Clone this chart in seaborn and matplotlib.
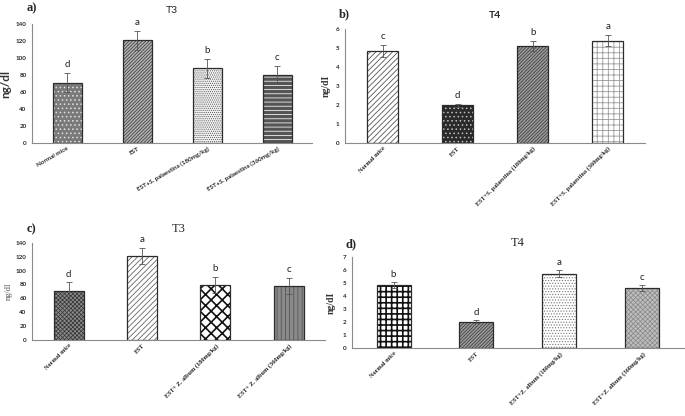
import matplotlib
matplotlib.use("Agg")
import matplotlib.pyplot as plt
import pandas as pd
import seaborn as sns

# ---- data ----
groupsA = ["Normal mice", "EST", "EST+S. palaestina (180mg/kg)", "EST+S. palaestina (360mg/kg)"]
t3A = [71, 121, 88, 80]
t3AErr = [11, 11, 11, 11]
t3ALetters = ["d", "a", "b", "c"]

groupsB = ["Normal mice", "EST", "EST+S. palaestina (180mg/kg)", "EST+S. palaestina (360mg/kg)"]
t4B = [4.85, 2.0, 5.1, 5.4]
t4BErr = [0.3, 0.08, 0.25, 0.27]
t4BLetters = ["c", "d", "b", "a"]

groupsC = ["Normal mice", "EST", "EST+ Z. album (180mg/kg)", "EST+ Z. album (360mg/kg)"]
t3C = [71, 121, 79, 78]
t3CErr = [12, 12, 12, 12]
t3CLetters = ["d", "a", "b", "c"]

groupsD = ["Normal mice", "EST", "EST+Z. album (180mg/kg)", "EST+Z. album (360mg/kg)"]
t4D = [4.85, 2.05, 5.72, 4.6]
t4DErr = [0.25, 0.08, 0.27, 0.23]
t4DLetters = ["b", "d", "a", "c"]

# (face, hatch, hatch colour, hatch width) per bar
fillsA = [("#7a7a7a", "....", "#e0e0e0", 0.6), ("#b0b0b0", "//////////", "#333333", 0.5),
          ("#f2f2f2", "........", "#555555", 0.5), ("#555555", "----", "#f0f0f0", 0.6)]
fillsB = [("white", "//////", "#555555", 0.6), ("#2a2a2a", "....", "#c0c0c0", 0.6),
          ("#9a9a9a", "//////////", "#333333", 0.5), ("white", "+++", "#999999", 0.6)]
fillsC = [("#8a8a8a", "xxxxxxxx", "#333333", 0.5), ("white", "//////", "#666666", 0.6),
          ("white", "xxx", "#111111", 1.2), ("#8a8a8a", "||||", "#555555", 0.6)]
fillsD = [("white", "+++", "#111111", 1.2), ("#9a9a9a", "//////////", "#333333", 0.5),
          ("white", "......", "#777777", 0.5), ("#bdbdbd", "xxxxxxx", "#888888", 0.5)]

sns.set_style("white")
plt.rcParams["hatch.linewidth"] = 0.6
SANS = ["Lato", "DejaVu Sans"]
SERIF = ["Liberation Serif", "DejaVu Serif"]


def drawPanel(fig, rect, groups, vals, errs, letters, fills, ymax, ystep, tag, title,
              titleFont, titleBold, ylabel, ylabelFont, ylabelBold, ylabelSize, xFont, xRot, ylabelX):
    ax = fig.add_axes(rect)
    df = pd.DataFrame({"group": groups, "value": vals})
    sns.barplot(data=df, x="group", y="value", ax=ax, width=0.41, errorbar=None, linewidth=0)
    for p, (fc, h, hc, hw) in zip(ax.patches, fills):
        p.set_facecolor(fc)
        p.set_hatch(h)
        p.set_edgecolor(hc)
        p.set_linewidth(0)
        if hasattr(p, "set_hatch_linewidth"):
            p.set_hatch_linewidth(hw)
    sns.barplot(data=df, x="group", y="value", ax=ax, width=0.41, errorbar=None,
                fill=False, edgecolor="#2b2b2b", linewidth=0.9)
    ax.errorbar(range(len(vals)), vals, yerr=errs, fmt="none", ecolor="#555555",
                elinewidth=0.6, capsize=2.5, capthick=0.6)
    for i, (v, e, l) in enumerate(zip(vals, errs, letters)):
        ax.text(i, v + e + ymax * 0.035, l, ha="center", va="bottom", fontsize=7,
                family=SANS, color="#222222")
    ax.set_ylim(0, ymax)
    ax.set_yticks([ystep * k for k in range(int(round(ymax / ystep)) + 1)])
    ax.set_xlim(-0.5, len(vals) - 0.5)
    for s in ["top", "right"]:
        ax.spines[s].set_visible(False)
    for s in ["left", "bottom"]:
        ax.spines[s].set_color("#8a8a8a")
        ax.spines[s].set_linewidth(0.8)
    ax.tick_params(axis="y", which="major", length=2, width=0.6, color="#8a8a8a", pad=2, labelsize=4.5)
    ax.tick_params(axis="x", length=0, pad=2)
    for t in ax.get_yticklabels():
        t.set_fontweight("bold")
        t.set_family(SANS)
    ax.set_xticks(range(len(groups)))
    ax.set_xticklabels(groups, rotation=xRot, ha="right", rotation_mode="anchor",
                       fontsize=4.5, fontweight="bold", family=xFont)
    ax.set_xlabel("")
    ax.set_ylabel(ylabel, fontsize=ylabelSize, fontweight="bold" if ylabelBold else "normal",
                  family=ylabelFont, color="#333333" if ylabelBold else "#555555")
    ax.yaxis.set_label_coords(ylabelX, 0.5)
    ax.set_title(title, fontsize=7.5 if titleFont is SANS else 9, family=titleFont,
                 fontweight="bold" if titleBold else "normal", pad=8)
    ax.text(-0.02, 1.08, tag, transform=ax.transAxes, fontsize=9, fontweight="bold",
            family=SERIF, ha="left", va="bottom")
    return ax


fig = plt.figure(figsize=(6.85, 4.16), dpi=100)

drawPanel(fig, [0.047, 0.656, 0.409, 0.286], groupsA, t3A, t3AErr, t3ALetters, fillsA, 140, 20,
          "a)", "T3", SANS, False, "ng/dl", SANS, True, 8.5, SANS, 30, -0.075)
drawPanel(fig, [0.504, 0.656, 0.438, 0.274], groupsB, t4B, t4BErr, t4BLetters, fillsB, 6, 1,
          "b)", "T4", SANS, True, "ng/dI", SERIF, True, 7, SERIF, 45, -0.05)
drawPanel(fig, [0.047, 0.183, 0.428, 0.233], groupsC, t3C, t3CErr, t3CLetters, fillsC, 140, 20,
          "c)", "T3", SERIF, False, "ng/dl", SERIF, False, 6, SERIF, 45, -0.065)
drawPanel(fig, [0.514, 0.163, 0.484, 0.219], groupsD, t4D, t4DErr, t4DLetters, fillsD, 7, 1,
          "d)", "T4", SERIF, False, "ng/dI", SERIF, True, 7, SERIF, 45, -0.05)

fig.savefig("out.png", dpi=100, facecolor="white")
